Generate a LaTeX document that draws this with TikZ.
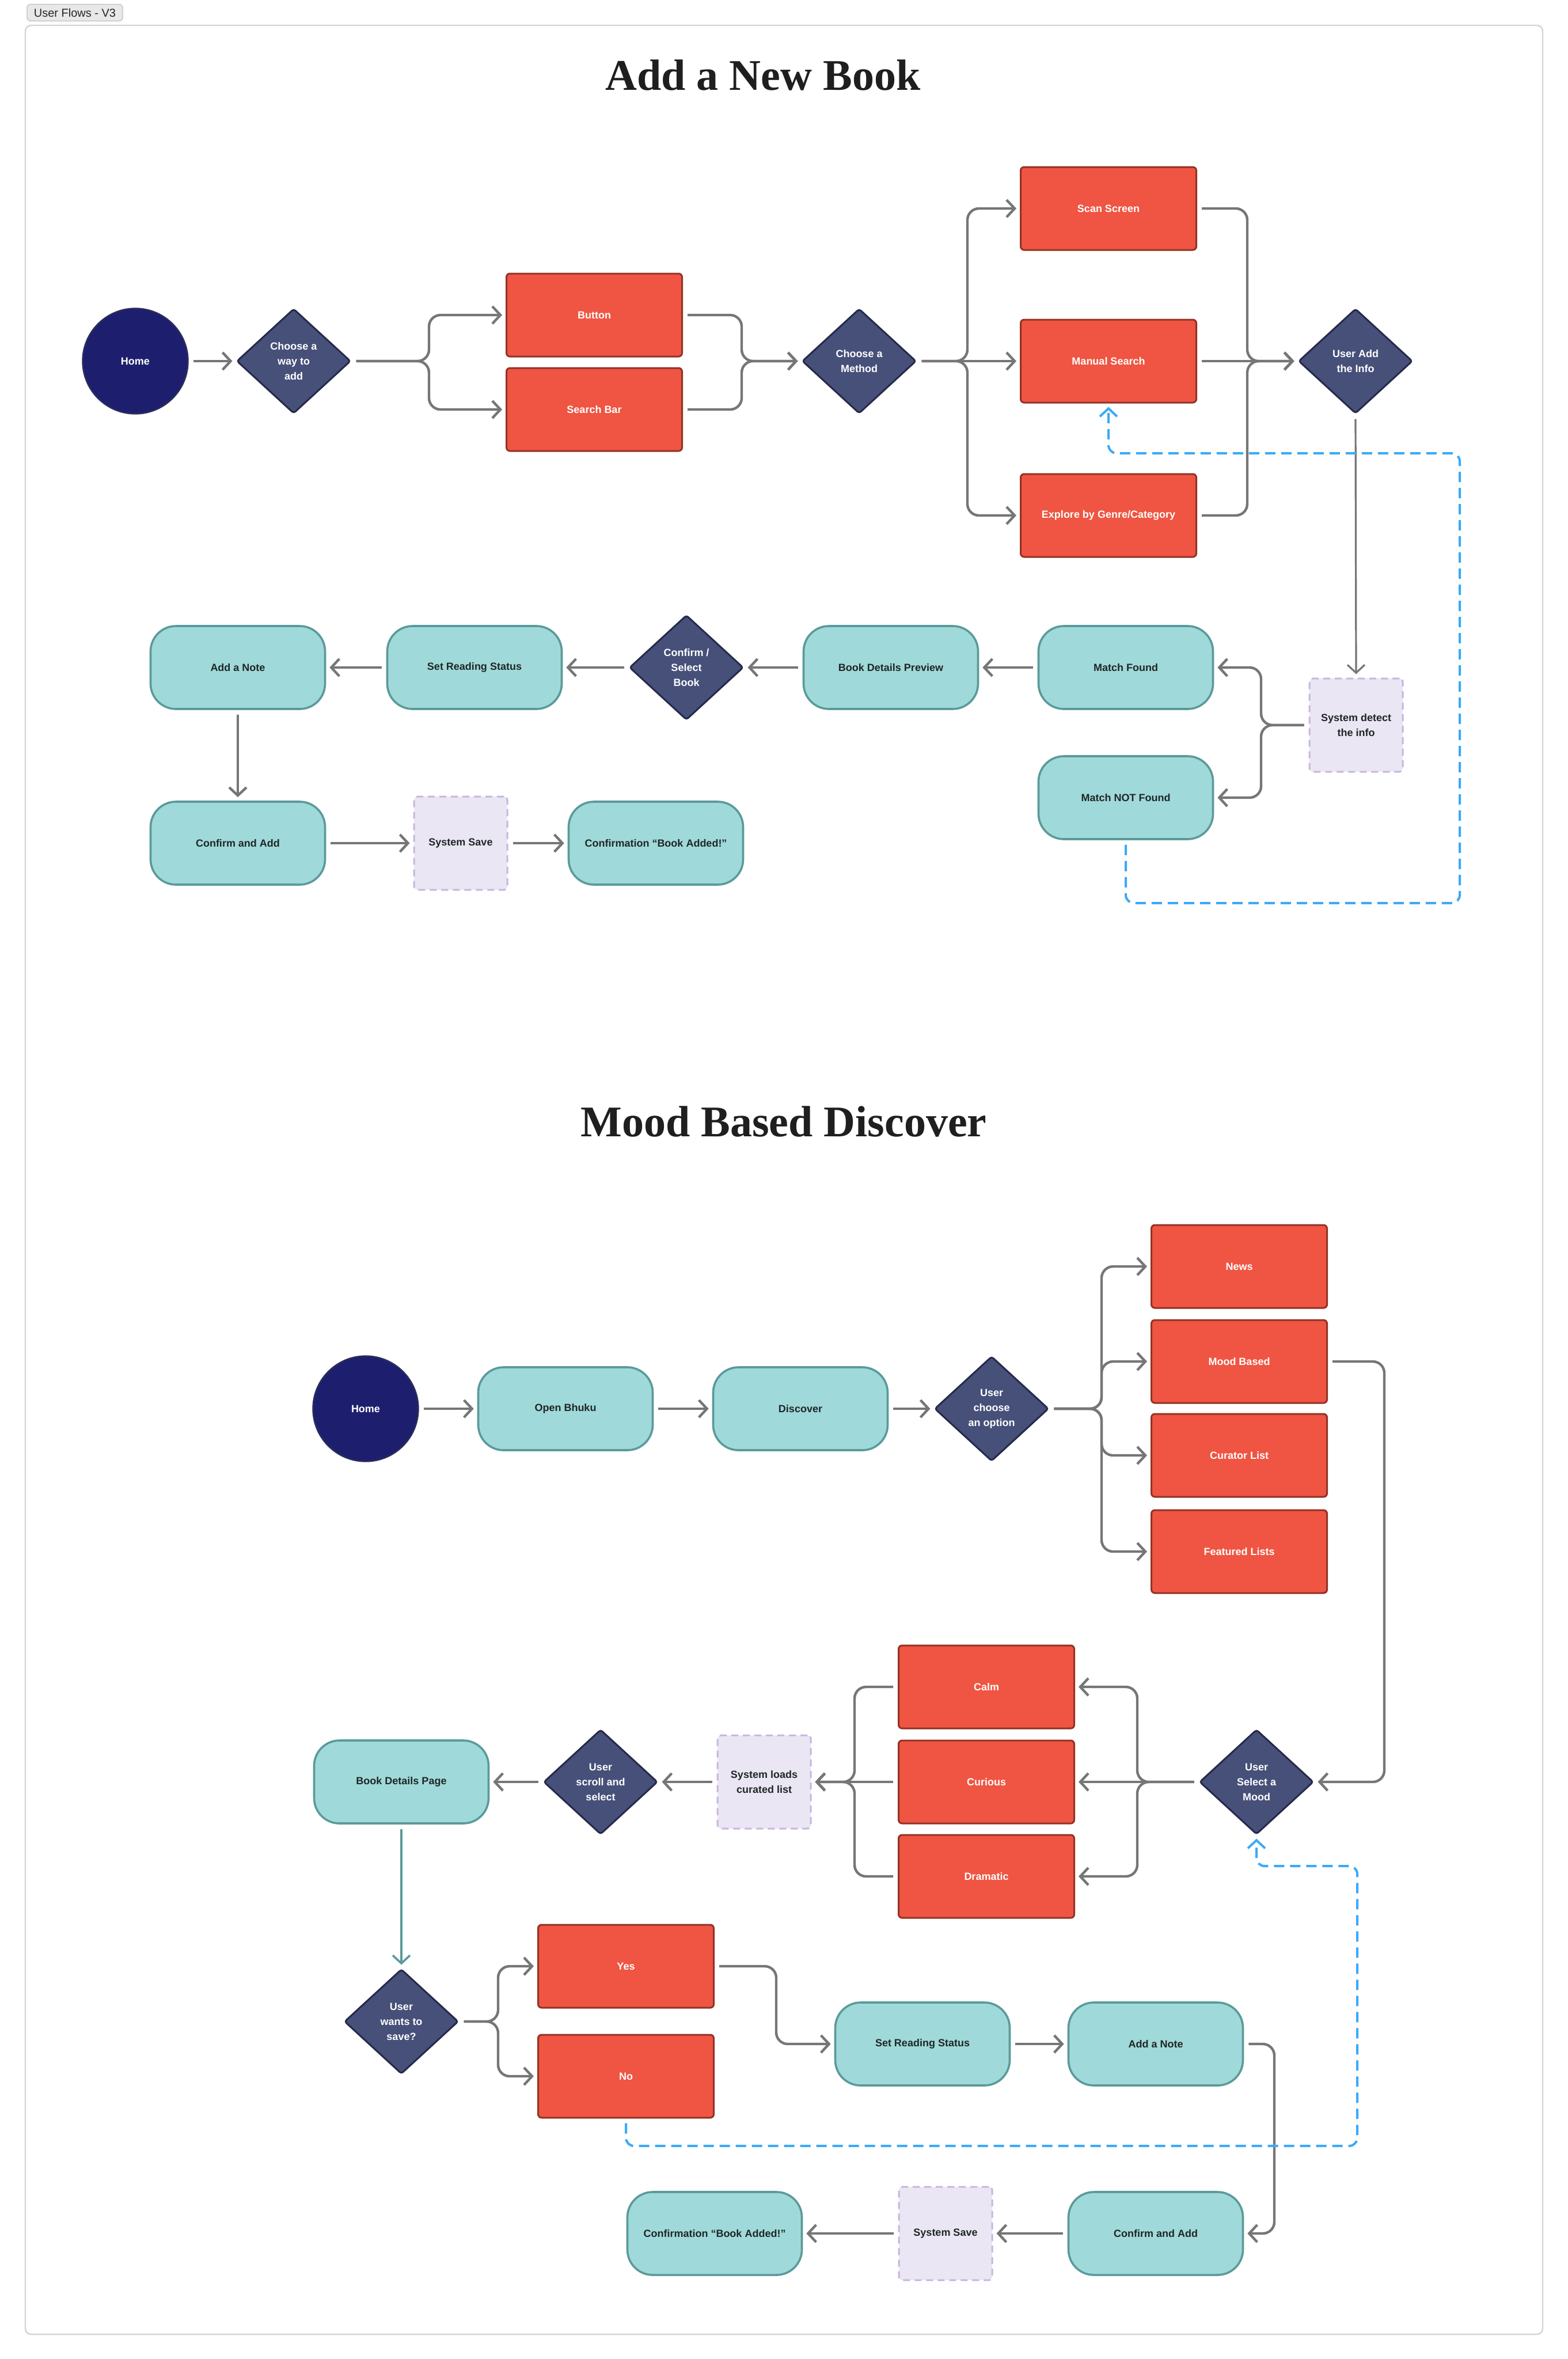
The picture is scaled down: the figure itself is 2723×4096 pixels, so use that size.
\documentclass[tikz,border=0pt]{standalone}
\usepackage{fontspec}
\setmainfont{Liberation Sans}
\newfontfamily\titlefont{Liberation Serif}
\usetikzlibrary{shapes.geometric,arrows.meta}
\definecolor{navy}{HTML}{1D1F6E}
\definecolor{navyS}{HTML}{2B2D5C}
\definecolor{dia}{HTML}{465079}
\definecolor{diaS}{HTML}{252A4B}
\definecolor{redF}{HTML}{EF5542}
\definecolor{redS}{HTML}{933226}
\definecolor{tealF}{HTML}{A0D9D9}
\definecolor{tealS}{HTML}{5B9A9A}
\definecolor{lavF}{HTML}{EAE6F3}
\definecolor{lavS}{HTML}{C7B6DD}
\definecolor{lineC}{HTML}{767676}
\definecolor{blueC}{HTML}{3BAAF7}
\definecolor{txtC}{HTML}{1F2626}
\definecolor{frameC}{HTML}{D4D4D4}
\begin{document}
\begin{tikzpicture}[x=0.5pt,y=-0.5pt,
 base/.style={font=\bfseries\fontsize{9}{13}\selectfont, align=center, inner sep=0pt},
 startc/.style={base, circle, draw=navyS, fill=navy, text=white, line width=1.2pt, minimum size=91.5pt},
 decide/.style={base, diamond, draw=diaS, fill=dia, text=white, line width=1.5pt, minimum width=99pt, minimum height=91pt, rounded corners=2pt},
 actbox/.style={base, rectangle, draw=redS, fill=redF, text=white, line width=1.5pt, minimum width=152.5pt, minimum height=72pt, rounded corners=3pt},
 pill/.style={base, rectangle, draw=tealS, fill=tealF, text=txtC, line width=1.8pt, minimum width=151.5pt, minimum height=72pt, rounded corners=22pt},
 sysbox/.style={base, rectangle, draw=lavS, fill=lavF, text=txtC, dash pattern=on 6pt off 4pt, line width=1.5pt, minimum width=81pt, minimum height=81pt, rounded corners=3pt},
 arr/.style={draw=lineC, line width=2.2pt, -{Straight Barb[length=7pt,width=15pt]}, rounded corners=10pt, shorten >=3pt, shorten <=4pt},
 arrthin/.style={arr, line width=1.6pt},
 arrteal/.style={arr, draw=tealS, line width=1.8pt},
 loopc/.style={draw=blueC, line width=2pt, dash pattern=on 9pt off 5pt, -{Straight Barb[length=7pt,width=15pt]}, rounded corners=7pt, shorten >=3pt, shorten <=4pt},
 titlest/.style={font=\titlefont\bfseries\fontsize{38}{44}\selectfont, text=black!88, inner sep=0pt},
 tagst/.style={font=\fontsize{10}{12}\selectfont, text=black!85, fill=black!9, draw=black!25, line width=0.6pt, rounded corners=3pt, minimum width=83pt, minimum height=14.5pt, inner sep=0pt}
]
\useasboundingbox (0,0) rectangle (2723,4096);
\fill[white] (0,0) rectangle (2723,4096);
\draw[frameC, line width=1.2pt, rounded corners=5pt] (44,44) rectangle (2679,4053);
\node[tagst] (tag) at (130,22) {User Flows - V3};

% ---------- Titles
\node[titlest] (t1) at (1325,131) {Add a New Book};
\node[titlest] (t2) at (1361,1947) {Mood Based Discover};

% ---------- Section 1 nodes
\node[startc] (home1) at (235,627) {Home};
\node[decide] (choose1) at (510,627) {Choose a\\way to\\add};
\node[actbox] (button) at (1032,547) {Button};
\node[actbox] (search) at (1032,711) {Search Bar};
\node[decide] (method) at (1492,627) {Choose a\\Method};
\node[actbox] (scan) at (1925,362) {Scan Screen};
\node[actbox] (manual) at (1925,627) {Manual Search};
\node[actbox] (explore) at (1925,895) {Explore by Genre/Category};
\node[decide] (useradd) at (2354,627) {User Add\\the Info};
\node[sysbox] (detect) at (2355,1259) {System detect\\the info};
\node[pill] (found) at (1955,1159) {Match Found};
\node[pill] (notfound) at (1955,1385) {Match NOT Found};
\node[pill] (preview) at (1547,1159) {Book Details Preview};
\node[decide] (confsel) at (1192,1159) {Confirm /\\Select\\Book};
\node[pill] (status1) at (824,1159) {Set Reading Status};
\node[pill] (note1) at (413,1159) {Add a Note};
\node[pill] (cadd1) at (413,1464) {Confirm and Add};
\node[sysbox] (save1) at (800,1464) {System Save};
\node[pill] (confm1) at (1139,1464) {Confirmation “Book Added!”};

% ---------- Section 1 routing points
\coordinate (s1) at (745,627);
\coordinate (m1) at (1288,627);
\coordinate (s2) at (1680,627);
\coordinate (m2) at (2166,627);
\coordinate (s3) at (2190,1259);
\coordinate (lp1) at (1955,1568);
\coordinate (lp2) at (2535,1568);
\coordinate (lp3) at (2535,787);
\coordinate (lp4) at (1925,787);

% ---------- Section 1 connectors
\draw[arr] (home1.east) -- (choose1.west);
\draw[arr] (choose1.east) -- (s1) |- (button.west);
\draw[arr] (choose1.east) -- (s1) |- (search.west);
\draw[arr] (button.east) -| (m1) -- (method.west);
\draw[arr] (search.east) -| (m1) -- (method.west);
\draw[arr] (method.east) -- (s2) |- (scan.west);
\draw[arr] (method.east) -- (manual.west);
\draw[arr] (method.east) -- (s2) |- (explore.west);
\draw[arr] (scan.east) -| (m2) -- (useradd.west);
\draw[arr] (manual.east) -- (useradd.west);
\draw[arr] (explore.east) -| (m2) -- (useradd.west);
\draw[arrthin] (useradd.south) -- (detect.north);
\draw[arr] (detect.west) -- (s3) |- (found.east);
\draw[arr] (detect.west) -- (s3) |- (notfound.east);
\draw[arr] (found.west) -- (preview.east);
\draw[arr] (preview.west) -- (confsel.east);
\draw[arr] (confsel.west) -- (status1.east);
\draw[arr] (status1.west) -- (note1.east);
\draw[arr] (note1.south) -- (cadd1.north);
\draw[arr] (cadd1.east) -- (save1.west);
\draw[arr] (save1.east) -- (confm1.west);
\draw[loopc] (notfound.south) -- (lp1) -- (lp2) -- (lp3) -- (lp4) -- (manual.south);

% ---------- Section 2 nodes
\node[startc] (home2) at (635,2446) {Home};
\node[pill] (open) at (982,2446) {Open Bhuku};
\node[pill] (discover) at (1390,2446) {Discover};
\node[decide] (choose2) at (1722,2446) {User\\choose\\an option};
\node[actbox] (news) at (2152,2199) {News};
\node[actbox] (mood) at (2152,2364) {Mood Based};
\node[actbox] (curator) at (2152,2527) {Curator List};
\node[actbox] (featured) at (2152,2694) {Featured Lists};
\node[decide] (selmood) at (2182,3094) {User\\Select a\\Mood};
\node[actbox] (calm) at (1713,2929) {Calm};
\node[actbox] (curious) at (1713,3094) {Curious};
\node[actbox] (dramatic) at (1713,3258) {Dramatic};
\node[sysbox] (loads) at (1327,3094) {System loads\\curated list};
\node[decide] (scroll) at (1043,3094) {User\\scroll and\\select};
\node[pill] (bdp) at (697,3094) {Book Details Page};
\node[decide] (wants) at (697,3510) {User\\wants to\\save?};
\node[actbox] (yes) at (1087,3414) {Yes};
\node[actbox] (no) at (1087,3605) {No};
\node[pill] (status2) at (1602,3549) {Set Reading Status};
\node[pill] (note2) at (2007,3549) {Add a Note};
\node[pill] (cadd2) at (2007,3878) {Confirm and Add};
\node[sysbox] (save2) at (1642,3878) {System Save};
\node[pill] (confm2) at (1241,3878) {Confirmation “Book Added!”};

% ---------- Section 2 routing points
\coordinate (s4) at (1913,2446);
\coordinate (rt1) at (2404,2364);
\coordinate (s5) at (1975,3094);
\coordinate (m4) at (1484,3094);
\coordinate (s6) at (865,3510);
\coordinate (c7) at (1348,3414);
\coordinate (c8) at (2213,3549);
\coordinate (lq1) at (1087,3726);
\coordinate (lq2) at (2357,3726);
\coordinate (lq3) at (2357,3240);
\coordinate (lq4) at (2182,3240);

% ---------- Section 2 connectors
\draw[arr] (home2.east) -- (open.west);
\draw[arr] (open.east) -- (discover.west);
\draw[arr] (discover.east) -- (choose2.west);
\draw[arr] (choose2.east) -- (s4) |- (news.west);
\draw[arr] (choose2.east) -- (s4) |- (mood.west);
\draw[arr] (choose2.east) -- (s4) |- (curator.west);
\draw[arr] (choose2.east) -- (s4) |- (featured.west);
\draw[arr] (mood.east) -- (rt1) |- (selmood.east);
\draw[arr] (selmood.west) -- (s5) |- (calm.east);
\draw[arr] (selmood.west) -- (curious.east);
\draw[arr] (selmood.west) -- (s5) |- (dramatic.east);
\draw[arr] (calm.west) -| (m4) -- (loads.east);
\draw[arr] (curious.west) -- (loads.east);
\draw[arr] (dramatic.west) -| (m4) -- (loads.east);
\draw[arr] (loads.west) -- (scroll.east);
\draw[arr] (scroll.west) -- (bdp.east);
\draw[arrteal] (bdp.south) -- (wants.north);
\draw[arr] (wants.east) -- (s6) |- (yes.west);
\draw[arr] (wants.east) -- (s6) |- (no.west);
\draw[arr] (yes.east) -- (c7) |- (status2.west);
\draw[arr] (status2.east) -- (note2.west);
\draw[arr] (note2.east) -- (c8) |- (cadd2.east);
\draw[arr] (cadd2.west) -- (save2.east);
\draw[arr] (save2.west) -- (confm2.east);
\draw[loopc] (no.south) -- (lq1) -- (lq2) -- (lq3) -- (lq4) -- (selmood.south);
\end{tikzpicture}
\end{document}
